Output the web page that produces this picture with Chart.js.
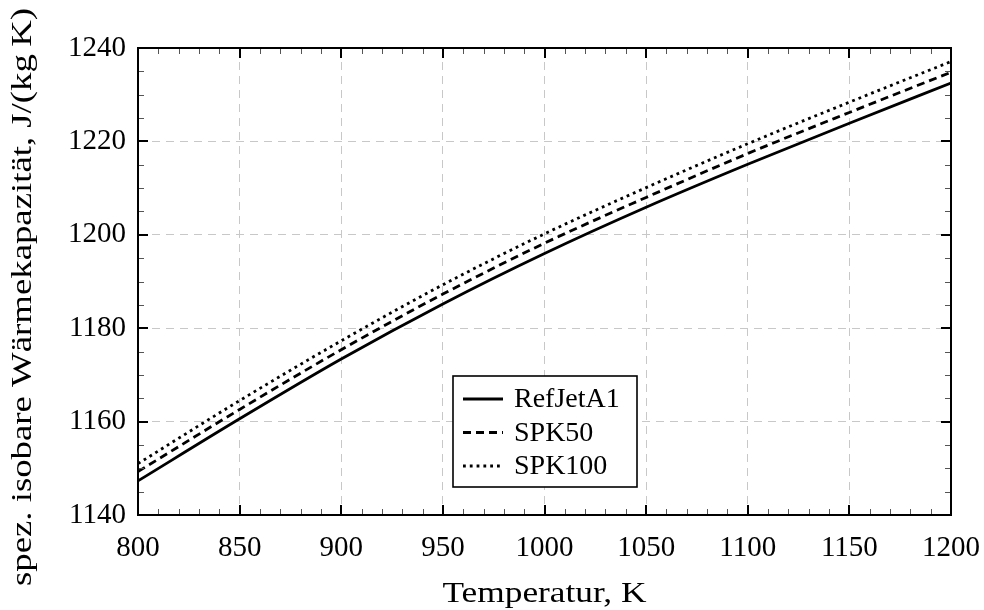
<!DOCTYPE html>
<html>
<head>
<meta charset="utf-8">
<script src="https://cdn.jsdelivr.net/npm/chart.js@4/dist/chart.umd.min.js"></script>
<style>
  html, body { margin: 0; padding: 0; background: #fff; }
  #wrap { width: 984px; height: 610px; }
</style>
</head>
<body>
<div id="wrap"><canvas id="cpChart" width="984" height="610"></canvas></div>
<script>
// Temperatur in K
const temperatures = [800, 850, 900, 950, 1000, 1050, 1100, 1150, 1200];
// spez. isobare Waermekapazitaet in J/(kg K)
const refJetA1 = [1147.3, 1160.6, 1173.4, 1185.2, 1196.0, 1205.9, 1215.1, 1223.9, 1232.5];
const spk50    = [1149.3, 1162.6, 1175.4, 1187.3, 1198.2, 1208.0, 1217.4, 1226.2, 1234.8];
const spk100   = [1151.0, 1164.5, 1177.3, 1189.3, 1200.2, 1210.1, 1219.5, 1228.4, 1237.1];
const seriesLabels = ['RefJetA1', 'SPK50', 'SPK100'];
const xTicks = [800, 850, 900, 950, 1000, 1050, 1100, 1150, 1200];
const yTicks = [1140, 1160, 1180, 1200, 1220, 1240];
const xTitle = 'Temperatur, K';
const yTitle = 'spez. isobare Wärmekapazität, J/(kg\u2009K)';

const FONT = "'Liberation Serif', 'DejaVu Serif', serif";

function toPoints(ys) {
    return temperatures.map((t, i) => ({ x: t, y: ys[i] }));
}

// draws text stretched horizontally to a given width (LaTeX font is wider than Times)
function wideText(ctx, text, x, y, width) {
    const w = ctx.measureText(text).width;
    ctx.save();
    ctx.translate(x, y);
    ctx.scale(width / w, 1);
    ctx.fillText(text, 0, 0);
    ctx.restore();
}

// frame, inward ticks (major + minor), axis titles and the legend box
const framePlugin = {
    id: 'frame',
    afterDraw(chart) {
        const { ctx, chartArea: a, scales } = chart;
        const xs = scales.x, ys = scales.y;
        ctx.save();

        // minor ticks
        ctx.strokeStyle = '#555';
        ctx.lineWidth = 1;
        ctx.beginPath();
        for (let v = xTicks[0]; v <= xTicks[xTicks.length - 1]; v += 10) {
            if (xTicks.includes(v)) continue;
            const px = Math.round(xs.getPixelForValue(v)) + 0.5;
            ctx.moveTo(px, a.bottom); ctx.lineTo(px, a.bottom - 6);
            ctx.moveTo(px, a.top); ctx.lineTo(px, a.top + 6);
        }
        for (let v = yTicks[0]; v <= yTicks[yTicks.length - 1]; v += 5) {
            if (yTicks.includes(v)) continue;
            const py = Math.round(ys.getPixelForValue(v)) + 0.5;
            ctx.moveTo(a.left, py); ctx.lineTo(a.left + 6, py);
            ctx.moveTo(a.right, py); ctx.lineTo(a.right - 6, py);
        }
        ctx.stroke();

        // major ticks
        ctx.strokeStyle = '#000';
        ctx.lineWidth = 2;
        ctx.beginPath();
        xTicks.forEach(v => {
            const px = Math.round(xs.getPixelForValue(v));
            ctx.moveTo(px, a.bottom); ctx.lineTo(px, a.bottom - 10);
            ctx.moveTo(px, a.top); ctx.lineTo(px, a.top + 10);
        });
        yTicks.forEach(v => {
            const py = Math.round(ys.getPixelForValue(v));
            ctx.moveTo(a.left, py); ctx.lineTo(a.left + 10, py);
            ctx.moveTo(a.right, py); ctx.lineTo(a.right - 10, py);
        });
        ctx.stroke();

        // frame
        ctx.lineWidth = 2;
        ctx.strokeRect(a.left, a.top, a.right - a.left, a.bottom - a.top);

        // axis titles
        ctx.fillStyle = '#000';
        ctx.font = '29px ' + FONT;
        ctx.textBaseline = 'alphabetic';
        ctx.textAlign = 'left';
        const xw = 204;
        wideText(ctx, xTitle, (a.left + a.right) / 2 - xw / 2, 602, xw);
        ctx.save();
        ctx.translate(31, 297);
        ctx.rotate(-Math.PI / 2);
        const yw = 578;
        wideText(ctx, yTitle, -yw / 2, 0, yw);
        ctx.restore();

        // legend
        const bx = a.left + 315, by = a.top + 328, bw = 184, bh = 111;
        ctx.fillStyle = '#fff';
        ctx.fillRect(bx, by, bw, bh);
        ctx.lineWidth = 1.6;
        ctx.strokeStyle = '#000';
        ctx.strokeRect(bx, by, bw, bh);
        ctx.font = '28px ' + FONT;
        ctx.textBaseline = 'middle';
        ctx.textAlign = 'left';
        chart.data.datasets.forEach((ds, i) => {
            const ry = by + 23 + i * 33.5;
            ctx.beginPath();
            ctx.setLineDash(ds.borderDash || []);
            ctx.lineWidth = ds.borderWidth;
            ctx.strokeStyle = ds.borderColor;
            ctx.moveTo(bx + 10, ry); ctx.lineTo(bx + 50, ry);
            ctx.stroke();
            ctx.setLineDash([]);
            ctx.fillStyle = '#000';
            ctx.fillText(ds.label, bx + 61, ry + 1);
        });

        ctx.restore();
    }
};

const ctx = document.getElementById('cpChart').getContext('2d');
new Chart(ctx, {
    type: 'line',
    data: {
        datasets: [
            { label: seriesLabels[0], data: toPoints(refJetA1), borderColor: '#000', borderWidth: 2.8, borderDash: [], pointRadius: 0, cubicInterpolationMode: 'monotone' },
            { label: seriesLabels[1], data: toPoints(spk50), borderColor: '#000', borderWidth: 2.8, borderDash: [8, 5], pointRadius: 0, cubicInterpolationMode: 'monotone' },
            { label: seriesLabels[2], data: toPoints(spk100), borderColor: '#000', borderWidth: 2.8, borderDash: [2.8, 4], borderCapStyle: 'butt', pointRadius: 0, cubicInterpolationMode: 'monotone' }
        ]
    },
    options: {
        responsive: false,
        animation: false,
        devicePixelRatio: 1,
        layout: { padding: { left: 0, right: 33, top: 48, bottom: 0 } },
        plugins: {
            legend: { display: false },
            tooltip: { enabled: false }
        },
        scales: {
            x: {
                type: 'linear',
                min: 800,
                max: 1200,
                afterBuildTicks: s => { s.ticks = xTicks.map(v => ({ value: v })); },
                afterFit: s => { s.height = 95; s.paddingLeft = 0; s.paddingRight = 0; },
                ticks: { color: '#000', font: { family: FONT, size: 29 }, padding: 16, maxRotation: 0, callback: v => String(v) },
                grid: { color: '#c8c8c8', lineWidth: 1, drawTicks: false },
                border: { display: false, dash: [8, 6] }
            },
            y: {
                type: 'linear',
                min: 1140,
                max: 1240,
                afterBuildTicks: s => { s.ticks = yTicks.map(v => ({ value: v })); },
                afterFit: s => { s.width = 138; s.paddingTop = 0; s.paddingBottom = 0; },
                ticks: { color: '#000', font: { family: FONT, size: 29 }, padding: 12, callback: v => String(v) },
                grid: { color: '#c8c8c8', lineWidth: 1, drawTicks: false },
                border: { display: false, dash: [8, 6] }
            }
        }
    },
    plugins: [framePlugin]
});
</script>
</body>
</html>
